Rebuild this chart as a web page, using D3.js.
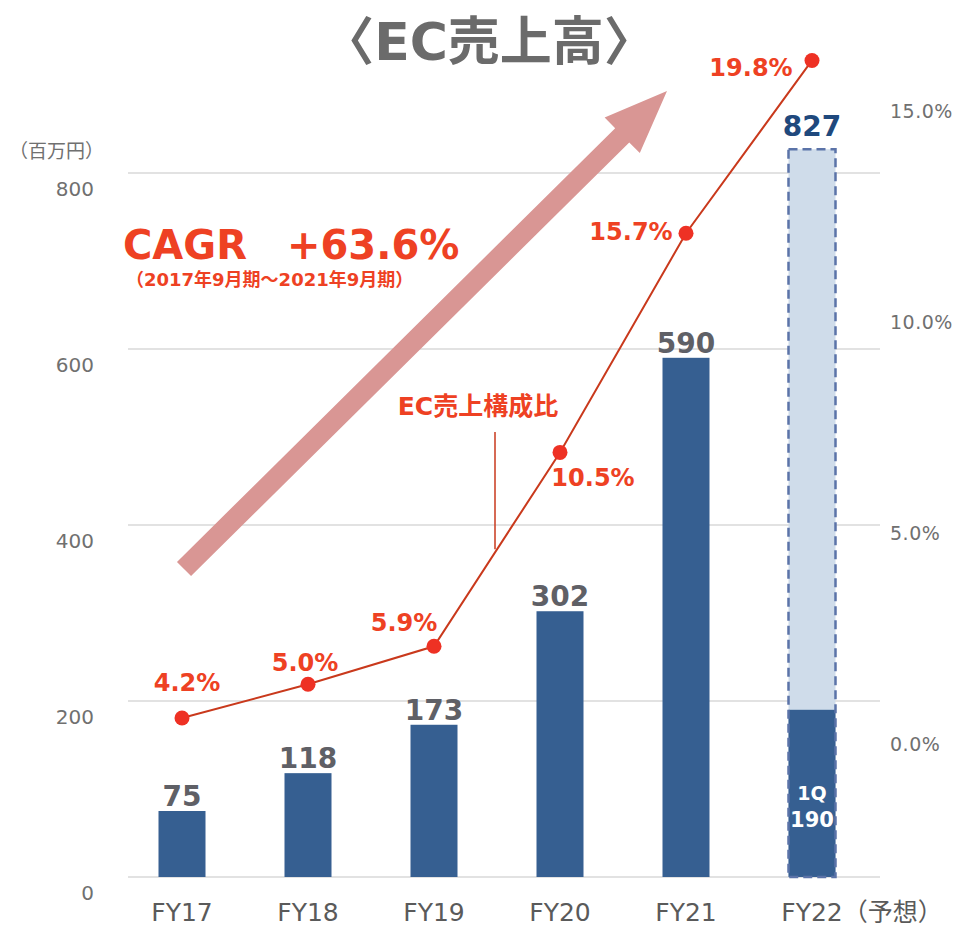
<!DOCTYPE html>
<html>
<head>
<meta charset="utf-8">
<script src="https://cdn.jsdelivr.net/npm/d3@7"></script>
<style>
	body { margin: 0; background: #ffffff; }
	text { font-family: "DejaVu Sans", "Noto Sans CJK JP", sans-serif; }
</style>
</head>
<body>
<svg id="ec_sales_svg"></svg>
<script>
// data
const years = ["FY17", "FY18", "FY19", "FY20", "FY21", "FY22"];
const sales = [75, 118, 173, 302, 590, 827];       // 百万円
const firstQuarterFY22 = 190;                       // 1Q actual inside the forecast bar
const ecRatio = [4.2, 5.0, 5.9, 10.5, 15.7, 19.8];  // EC売上構成比 (%)
const leftTicks = [0, 200, 400, 600, 800];
const rightTicks = [0, 5, 10, 15];
const forecastSuffix = "（予想）";
const titleText = "〈EC売上高〉";
const unitText = "（百万円）";
const cagrLabel = "CAGR";
const cagrValue = "+63.6%";
const cagrPeriod = "（2017年9月期～2021年9月期）";
const ratioName = "EC売上構成比";

// label nudges (px from each point: centre dx, baseline dy)
const pctLabelOffsets = [[5, -27], [-3, -13], [-30, -15], [33, 34], [-55, 7], [-61, 16]];

function drawEcSales() {
	const width = 957;
	const height = 926;

	const svg = d3.select("#ec_sales_svg")
		.attr("width", width)
		.attr("height", height);

	const x = d3.scaleBand()
		.domain(years)
		.range([119, 875])
		.paddingInner(0.627)
		.paddingOuter(0.3135);

	const y = d3.scaleLinear()
		.domain([0, 800])
		.range([877, 173]);

	// the ratio line sits on its own scale, the printed right-hand labels on another
	const yPct = d3.scaleLinear()
		.domain([0, 20])
		.range([895, 52]);

	const yRight = d3.scaleLinear()
		.domain([0, 15])
		.range([744, 111]);

	const cx = d => x(d) + x.bandwidth() / 2;
	const fmtPct = d3.format(".1f");

	// gridlines
	svg.append("g")
		.selectAll("line")
		.data(leftTicks)
		.enter().append("line")
		.attr("x1", 128)
		.attr("x2", 880)
		.attr("y1", d => y(d))
		.attr("y2", d => y(d))
		.attr("stroke", "#d9d9d9")
		.attr("stroke-width", 1.5);

	// left axis labels
	svg.append("g")
		.selectAll("text")
		.data(leftTicks)
		.enter().append("text")
		.attr("x", 94)
		.attr("y", d => y(d) + 16)
		.attr("dy", "0.36em")
		.attr("text-anchor", "end")
		.style("font-size", "20px")
		.style("fill", "#707070")
		.text(d => d);

	svg.append("text")
		.attr("x", 9)
		.attr("y", 158)
		.style("font-family", "'Noto Sans CJK JP'")
		.style("font-size", "19px")
		.style("fill", "#707070")
		.text(unitText);

	// right axis labels
	svg.append("g")
		.selectAll("text")
		.data(rightTicks)
		.enter().append("text")
		.attr("x", 890)
		.attr("y", d => yRight(d))
		.attr("dy", "0.36em")
		.style("font-size", "19px")
		.style("letter-spacing", "0.5px")
		.style("fill", "#707070")
		.text(d => fmtPct(d) + "%");

	// title
	svg.append("text")
		.attr("x", 489)
		.attr("y", 60)
		.attr("text-anchor", "middle")
		.style("font-size", "52px")
		.style("font-weight", "bold")
		.style("fill", "#6b6b6b")
		.text(titleText);

	// big growth arrow
	const tail = [184, 569];
	const tip = [667, 91];
	const shaftHalf = 10, headLen = 63, headHalf = 25;
	const len = Math.hypot(tip[0] - tail[0], tip[1] - tail[1]);
	const ux = (tip[0] - tail[0]) / len, uy = (tip[1] - tail[1]) / len;
	const px = -uy, py = ux;
	const base = [tip[0] - ux * headLen, tip[1] - uy * headLen];
	const arrowPts = [
		[tail[0] + px * shaftHalf, tail[1] + py * shaftHalf],
		[base[0] + px * shaftHalf, base[1] + py * shaftHalf],
		[base[0] + px * headHalf, base[1] + py * headHalf],
		tip,
		[base[0] - px * headHalf, base[1] - py * headHalf],
		[base[0] - px * shaftHalf, base[1] - py * shaftHalf],
		[tail[0] - px * shaftHalf, tail[1] - py * shaftHalf]
	];
	svg.append("path")
		.attr("d", d3.line()(arrowPts) + "Z")
		.attr("fill", "#d99694");

	// CAGR text
	const cagrText = svg.append("text")
		.attr("y", 259)
		.style("font-size", "40px")
		.style("font-weight", "bold")
		.style("fill", "#ee4123");
	cagrText.append("tspan").attr("x", 123).text(cagrLabel);
	cagrText.append("tspan").attr("x", 287).text(cagrValue);

	svg.append("text")
		.attr("x", 126)
		.attr("y", 286)
		.style("font-size", "18px")
		.style("font-weight", "bold")
		.style("fill", "#ee4123")
		.text(cagrPeriod);

	// actual bars
	const actual = years.slice(0, 5);
	svg.append("g")
		.selectAll("rect")
		.data(actual)
		.enter().append("rect")
		.attr("x", d => x(d))
		.attr("y", (d, i) => y(sales[i]))
		.attr("width", x.bandwidth())
		.attr("height", (d, i) => y(0) - y(sales[i]))
		.attr("fill", "#365f91");

	svg.append("g")
		.selectAll("text")
		.data(actual)
		.enter().append("text")
		.attr("x", d => cx(d))
		.attr("y", (d, i) => y(sales[i]) - 5)
		.attr("text-anchor", "middle")
		.style("font-size", "28px")
		.style("font-weight", "bold")
		.style("fill", "#5f6066")
		.text((d, i) => sales[i]);

	// forecast bar (FY22)
	const fc = years[5];
	const fcTotal = sales[5];
	svg.append("rect")
		.attr("x", x(fc))
		.attr("y", y(fcTotal))
		.attr("width", x.bandwidth())
		.attr("height", y(0) - y(fcTotal))
		.attr("fill", "#cfdcea");

	svg.append("rect")
		.attr("x", x(fc))
		.attr("y", y(firstQuarterFY22))
		.attr("width", x.bandwidth())
		.attr("height", y(0) - y(firstQuarterFY22))
		.attr("fill", "#365f91");

	svg.append("rect")
		.attr("x", x(fc))
		.attr("y", y(fcTotal))
		.attr("width", x.bandwidth())
		.attr("height", y(0) - y(fcTotal))
		.attr("fill", "none")
		.attr("stroke", "#5b73a8")
		.attr("stroke-width", 2.5)
		.attr("stroke-dasharray", "9,5");

	svg.append("text")
		.attr("x", cx(fc))
		.attr("y", y(fcTotal) - 13)
		.attr("text-anchor", "middle")
		.style("font-size", "28px")
		.style("font-weight", "bold")
		.style("fill", "#1f497d")
		.text(fcTotal);

	const q1Text = svg.append("text")
		.attr("text-anchor", "middle")
		.style("font-weight", "bold")
		.style("fill", "#ffffff");
	q1Text.append("tspan")
		.attr("x", cx(fc))
		.attr("y", y(firstQuarterFY22 / 2) + 7)
		.style("font-size", "19px")
		.text("1Q");
	q1Text.append("tspan")
		.attr("x", cx(fc))
		.attr("y", y(firstQuarterFY22 / 2) + 34)
		.style("font-size", "21px")
		.text(firstQuarterFY22);

	// x labels
	const xLabels = svg.append("g")
		.selectAll("text")
		.data(years)
		.enter().append("text")
		.attr("x", d => cx(d))
		.attr("y", 921)
		.attr("text-anchor", "middle")
		.style("font-size", "25px")
		.style("fill", "#5a5a5a")
		.text(d => d);

	const fcLabel = xLabels.filter(d => d === fc).node();
	svg.append("text")
		.attr("x", cx(fc) + fcLabel.getComputedTextLength() / 2)
		.attr("y", 921)
		.style("font-size", "25px")
		.style("fill", "#5a5a5a")
		.text(forecastSuffix);

	// EC ratio line
	const ratioLine = d3.line()
		.x((d, i) => cx(years[i]))
		.y(d => yPct(d));

	svg.append("path")
		.datum(ecRatio)
		.attr("d", ratioLine)
		.attr("fill", "none")
		.attr("stroke", "#c9391c")
		.attr("stroke-width", 2);

	svg.append("g")
		.selectAll("circle")
		.data(ecRatio)
		.enter().append("circle")
		.attr("cx", (d, i) => cx(years[i]))
		.attr("cy", d => yPct(d))
		.attr("r", 7.5)
		.attr("fill", "#ee3124");

	svg.append("g")
		.selectAll("text")
		.data(ecRatio)
		.enter().append("text")
		.attr("x", (d, i) => cx(years[i]) + pctLabelOffsets[i][0])
		.attr("y", (d, i) => yPct(d) + pctLabelOffsets[i][1])
		.attr("text-anchor", "middle")
		.style("font-size", "24px")
		.style("font-weight", "bold")
		.style("fill", "#ee4123")
		.text(d => fmtPct(d) + "%");

	// series callout with leader to the FY19-FY20 segment
	const leaderX = (cx(years[2]) + cx(years[3])) / 2;
	const leaderY = (yPct(ecRatio[2]) + yPct(ecRatio[3])) / 2;
	svg.append("line")
		.attr("x1", leaderX - 2)
		.attr("x2", leaderX - 2)
		.attr("y1", 432)
		.attr("y2", leaderY)
		.attr("stroke", "#c9391c")
		.attr("stroke-width", 1.5);

	svg.append("text")
		.attr("x", 478)
		.attr("y", 415)
		.attr("text-anchor", "middle")
		.style("font-size", "25px")
		.style("font-weight", "bold")
		.style("fill", "#ee4123")
		.text(ratioName);
}

drawEcSales();
</script>
</body>
</html>
